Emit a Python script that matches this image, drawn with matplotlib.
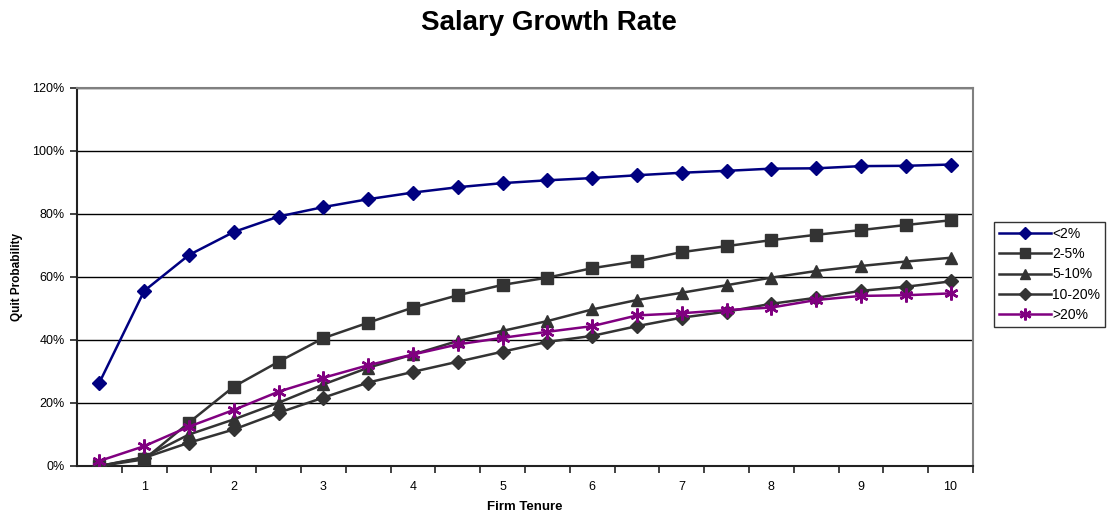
import matplotlib
matplotlib.use("Agg")
import matplotlib.pyplot as plt
import numpy as np
from matplotlib.ticker import FixedLocator, FuncFormatter

plt.rcParams['font.family'] = ['Liberation Sans', 'DejaVu Sans']

tenure = [0.5, 1, 1.5, 2, 2.5, 3, 3.5, 4, 4.5, 5,
          5.5, 6, 6.5, 7, 7.5, 8, 8.5, 9, 9.5, 10]

growth_lt2 = [26.5, 55.6, 67.0, 74.3, 79.2, 82.2, 84.7, 86.8, 88.5, 89.8,
              90.7, 91.4, 92.3, 93.1, 93.7, 94.4, 94.5, 95.2, 95.3, 95.7]
growth_2_5 = [0.0, 2.1, 13.8, 25.2, 33.1, 40.6, 45.5, 50.3, 54.2, 57.5,
              59.8, 62.8, 65.0, 67.9, 69.8, 71.7, 73.4, 74.9, 76.5, 78.0]
growth_5_10 = [0.0, 2.8, 10.0, 14.8, 20.1, 25.9, 31.2, 35.4, 39.7, 42.9,
               46.0, 49.7, 52.7, 55.0, 57.4, 59.8, 61.9, 63.5, 64.9, 66.1]
growth_10_20 = [0.0, 2.6, 7.4, 11.6, 16.9, 21.7, 26.5, 29.9, 33.1, 36.3,
                39.4, 41.3, 44.4, 47.1, 49.0, 51.5, 53.4, 55.6, 56.9, 58.6]
growth_gt20 = [1.6, 6.3, 12.5, 17.8, 23.6, 28.0, 32.0, 35.4, 38.6, 40.7,
               42.6, 44.4, 47.8, 48.5, 49.5, 50.3, 52.7, 54.0, 54.2, 54.8]

series_labels = ['<2%', '2-5%', '5-10%', '10-20%', '>20%']
x_tick_labels = ['1', '2', '3', '4', '5', '6', '7', '8', '9', '10']

fig = plt.figure(figsize=(11.15, 5.14), dpi=100)
ax = fig.add_axes([0.0691, 0.0934, 0.8035, 0.7354])

styles = [
    dict(color='#000080', marker='D', markersize=7),
    dict(color='#333333', marker='s', markersize=8.5),
    dict(color='#333333', marker='^', markersize=9),
    dict(color='#333333', marker='D', markersize=7),
    dict(color='#800080', marker=(6, 2, 0), markersize=10, markeredgewidth=1.8),
]
all_series = [growth_lt2, growth_2_5, growth_5_10, growth_10_20, growth_gt20]

for vals, lab, st in zip(all_series, series_labels, styles):
    kw = dict(st)
    color = kw.pop('color')
    ax.plot(tenure, vals, color=color, markerfacecolor=color,
            markeredgecolor=color, linewidth=1.8, label=lab, zorder=3, **kw)

ax.set_xlim(0.25, 10.25)
ax.set_ylim(0, 120)
ax.yaxis.set_major_locator(FixedLocator(np.arange(0, 121, 20)))
ax.yaxis.set_major_formatter(FuncFormatter(lambda v, p: f"{int(v)}%"))
ax.grid(axis='y', color='black', linewidth=1.0)
ax.set_axisbelow(True)

# category boundaries carry the tick marks, labels sit on whole years
ax.xaxis.set_major_locator(FixedLocator(np.arange(0.75, 10.3, 0.5)))
ax.xaxis.set_major_formatter(FuncFormatter(lambda v, p: ''))
ax.set_xticks(np.arange(1, 10.5, 1), labels=x_tick_labels, minor=True)
ax.tick_params(axis='x', which='major', length=5, width=1.2, color='#222222',
               direction='out')
ax.tick_params(axis='x', which='minor', length=0, labelsize=9, pad=11)
ax.tick_params(axis='y', length=5, width=1.2, color='#222222', labelsize=9,
               direction='out', pad=4)

for side in ['top', 'right']:
    ax.spines[side].set_color('#808080')
    ax.spines[side].set_linewidth(1.5)
for side in ['left', 'bottom']:
    ax.spines[side].set_color('#222222')
    ax.spines[side].set_linewidth(1.5)

ax.set_xlabel('Firm Tenure', fontsize=9.5, fontweight='bold', va='center')
ax.xaxis.set_label_coords(0.5, -(507 - 466) / 378)
ax.set_ylabel('Quit Probability', fontsize=8.5, fontweight='bold', va='center')
ax.yaxis.set_label_coords(-(77 - 17) / 896, 0.5)
fig.text(0.4924, 1 - 30 / 514, 'Salary Growth Rate', fontsize=20,
         fontweight='bold', ha='center', va='baseline')

leg = ax.legend(loc='upper left', bbox_to_anchor=(994 / 1115, 1 - 222 / 514),
                bbox_transform=fig.transFigure, borderaxespad=0,
                frameon=True, fancybox=False, edgecolor='black',
                fontsize=10, handlelength=3.75, borderpad=0.35,
                labelspacing=0.45, handletextpad=0.1, markerscale=0.85)
leg.get_frame().set_linewidth(1.0)

fig.savefig('out.png', dpi=100)
